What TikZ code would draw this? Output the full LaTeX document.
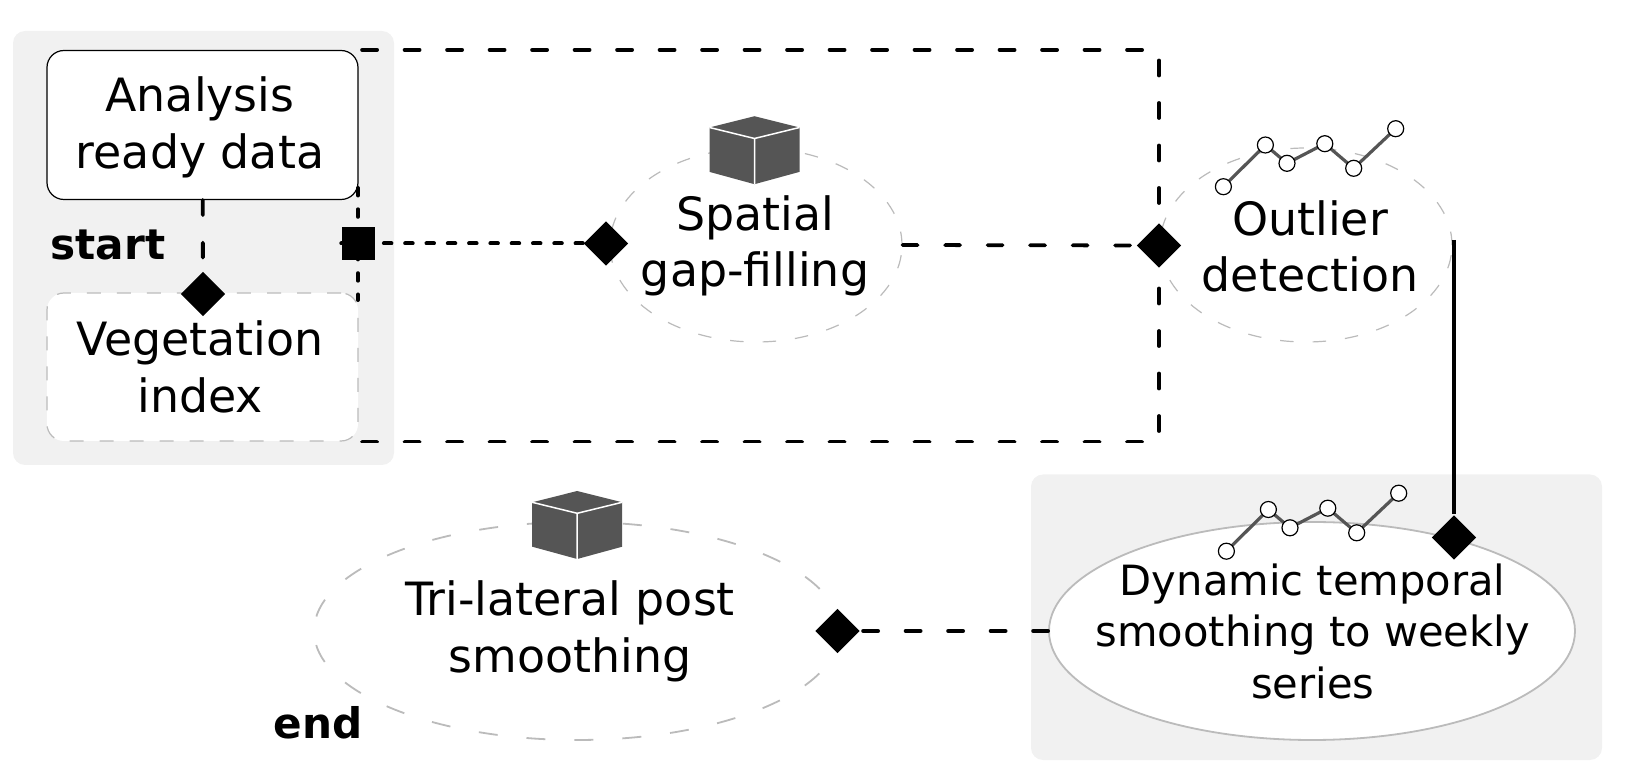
\documentclass[tikz,border=0pt]{standalone}
\usepackage{fontspec}
\setmainfont{DejaVu Sans}
\usetikzlibrary{shapes.geometric}

\definecolor{panelgray}{HTML}{F1F1F1}
\definecolor{edgegray}{HTML}{BBBBBB}
\definecolor{icongray}{HTML}{555555}

\begin{document}
\begin{tikzpicture}[
  x=1cm, y=-1cm,
  panel/.style={fill=panelgray, rounded corners=0.12cm},
  boxsolid/.style={draw=black, line width=0.012cm, fill=white, rounded corners=0.17cm, minimum width=3.11cm, minimum height=1.49cm, inner sep=0},
  boxghost/.style={draw=edgegray, line width=0.012cm, fill=white, rounded corners=0.17cm, minimum width=3.11cm, minimum height=1.48cm, inner sep=0, dash pattern=on 0.14cm off 0.16cm},
  blobsmall/.style={ellipse, draw=edgegray, line width=0.012cm, dash pattern=on 0.135cm off 0.19cm, minimum width=2.92cm, minimum height=1.94cm, inner sep=0},
  blobwide/.style={ellipse, draw=edgegray, line width=0.018cm, dash pattern=on 0.19cm off 0.29cm, minimum width=5.26cm, minimum height=2.18cm, inner sep=0},
  blobsolid/.style={ellipse, draw=edgegray, line width=0.018cm, fill=white, minimum width=5.26cm, minimum height=2.18cm, inner sep=0},
  gate/.style={diamond, fill=black, aspect=1, minimum width=0.45cm, minimum height=0.45cm, inner sep=0},
  tap/.style={rectangle, fill=black, minimum size=0.33cm, inner sep=0},
  longdash/.style={line width=0.038cm, line cap=round, dash pattern=on 0.15cm off 0.275cm},
  shortdash/.style={line width=0.04cm, line cap=round, dash pattern=on 0.075cm off 0.138cm},
  solidrun/.style={line width=0.034cm},
  lblbig/.style={align=center, anchor=base, inner sep=0, font=\fontsize{13.05}{16.2}\selectfont},
  lblsmall/.style={align=center, anchor=base, inner sep=0, font=\fontsize{11.85}{14.6}\selectfont},
  lblbold/.style={anchor=base west, inner sep=0, font=\fontsize{12}{14}\selectfont\bfseries},
  cubeicon/.pic={
    \fill [icongray] (0,-0.223) -- (0.45,-0.11) -- (0.45,0.334) -- (0,0.457) -- (-0.45,0.334) -- (-0.45,-0.11) -- cycle;
    \draw [white, line width=0.015cm] (-0.45,-0.11) -- (0,0) -- (0.45,-0.11) (0,0) -- (0,0.457);
  },
  sparkicon/.pic={
    \draw [icongray, line width=0.032cm] (0,0) -- (0.42,-0.417) -- (0.636,-0.234) -- (1.014,-0.43) -- (1.303,-0.184) -- (1.723,-0.58);
    \foreach \px/\py in {0/0, 0.42/-0.417, 0.636/-0.234, 1.014/-0.43, 1.303/-0.184, 1.723/-0.58}
      \draw [black, fill=white, line width=0.012cm] (\px,\py) circle [radius=0.08];
  }
]

\useasboundingbox (0,0) rectangle (16.47,7.71);

\path [panel] (0.13,0.31) rectangle (3.94,4.65);
\path [panel] (10.31,4.745) rectangle (16.02,7.60);

\node [boxsolid] (ard) at (2.025,1.25) {};
\node [boxghost] (vegindex) at (2.025,3.67) {};
\node [blobsmall] (spatial) at (7.56,2.45) {};
\node [blobsmall] (outlier) at (13.06,2.45) {};
\node [blobwide] (trilateral) at (5.77,6.31) {};
\node [blobsolid] (dynamic) at (13.12,6.31) {};

\path (7.545,1.385) pic {cubeicon};
\path (5.772,5.133) pic {cubeicon};
\path (12.234,1.867) pic {sparkicon};
\path (12.264,5.512) pic {sparkicon};

\node [gate] (vegdia) at (2.03,2.94) {};
\node [gate] (spatialdia) at (6.06,2.435) {};
\node [gate] (outlierdia) at (11.59,2.455) {};
\node [gate] (dynamicdia) at (14.54,5.375) {};
\node [gate] (enddia) at (8.375,6.31) {};
\node [tap] (ardtap) at (3.585,2.435) {};

\coordinate (ardedge) at (3.58,1.88);
\coordinate (vegedge) at (3.58,3.00);
\coordinate (outedge) at (14.54,2.40);

\draw [longdash] (ard) -- (vegdia);
\draw [longdash, shorten <=0.035cm] (ard.north east) -| (outlierdia);
\draw [longdash, shorten <=0.035cm] (vegindex.south east) -| (outlierdia);
\draw [longdash] (spatial.east) -- (outlierdia);
\draw [longdash] (dynamic.west) -- (enddia);
\draw [shortdash] (ardedge) -- (vegedge);
\draw [shortdash] (ardtap.west) -- (spatialdia);
\draw [solidrun] (outedge) -- (dynamicdia);

\node [lblbig] (ardtext) at (2.00,1.687) {Analysis\\ready data};
\node [lblbig] (vegtext) at (2.00,4.127) {Vegetation\\index};
\node [lblbig] (spatialtext) at (7.55,2.87) {Spatial\\gap-filling};
\node [lblbig] (outliertext) at (13.10,2.92) {Outlier\\detection};
\node [lblbig] (tritext) at (5.70,6.72) {Tri-lateral post\\smoothing};
\node [lblsmall] (dyntext) at (13.127,6.98) {Dynamic temporal\\smoothing to weekly\\series};
\node [lblbold] (starttext) at (0.50,2.60) {start};
\node [lblbold] (endtext) at (2.73,7.38) {end};

\end{tikzpicture}
\end{document}
